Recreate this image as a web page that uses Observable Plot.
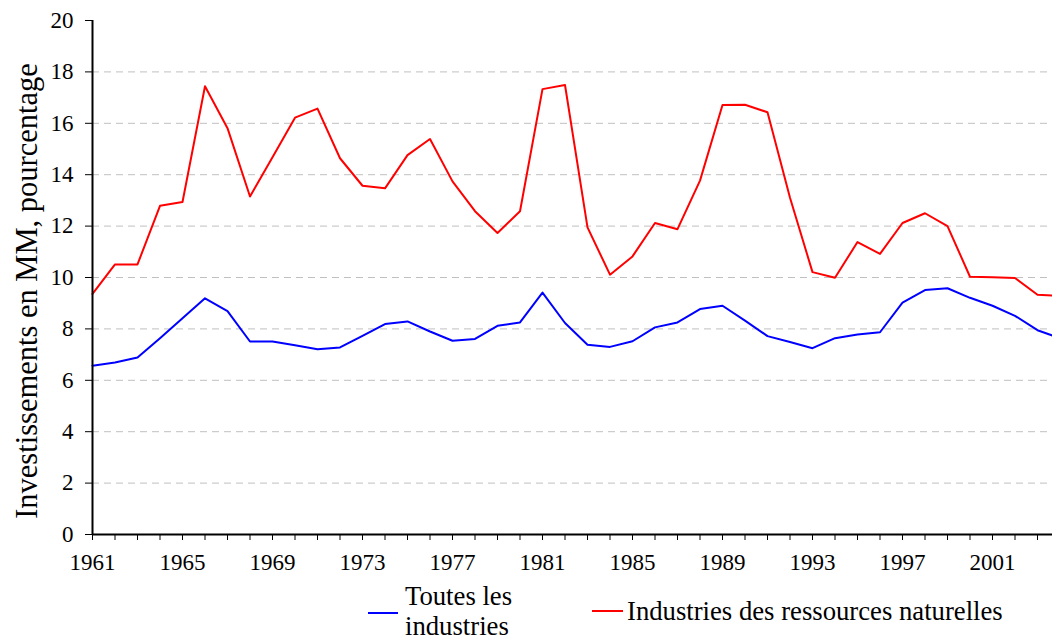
<!DOCTYPE html>
<html><head><meta charset="utf-8">
<script src="https://cdn.jsdelivr.net/npm/d3@7"></script>
<script src="https://cdn.jsdelivr.net/npm/@observablehq/plot@0.6"></script>
<style>
body{margin:0;background:#fff;}
#wrap{position:relative;width:1052px;height:640px;overflow:hidden;font-family:"Liberation Serif","Times New Roman",serif;color:#000;background:#fff;}
#wrap svg{position:absolute;left:0;top:0;}
.swatch{position:absolute;height:2px;}
.ltext{position:absolute;font-size:26.7px;line-height:30px;white-space:nowrap;}
</style></head><body><div id="wrap"></div><script>
const years = [1961,1962,1963,1964,1965,1966,1967,1968,1969,1970,
  1971,1972,1973,1974,1975,1976,1977,1978,1979,1980,
  1981,1982,1983,1984,1985,1986,1987,1988,1989,1990,
  1991,1992,1993,1994,1995,1996,1997,1998,1999,2000,
  2001,2002,2003,2004];
const allIndustries = [6.57,6.69,6.89,7.64,8.41,9.19,8.69,7.51,7.51,7.36,
  7.21,7.28,7.73,8.19,8.29,7.90,7.54,7.61,8.12,8.25,
  9.41,8.23,7.38,7.30,7.52,8.06,8.25,8.77,8.90,8.32,
  7.72,7.49,7.25,7.64,7.78,7.87,9.02,9.51,9.58,9.21,
  8.90,8.51,7.95,7.64];
const naturalResources = [9.36,10.51,10.51,12.79,12.94,17.44,15.81,13.15,14.68,16.22,
  16.57,14.64,13.57,13.47,14.76,15.39,13.74,12.58,11.73,12.58,
  17.33,17.49,11.95,10.11,10.82,12.12,11.88,13.77,16.71,16.72,
  16.43,13.10,10.21,9.99,11.38,10.92,12.12,12.50,12.00,10.03,
  10.01,9.98,9.33,9.29];
const seriesNames = ["Toutes les industries","Industries des ressources naturelles"];
const seriesColors = ["#0000ff","#ff0000"];
const yTicks = [0,2,4,6,8,10,12,14,16,18,20];
const gridValues = [2,4,6,8,10,12,14,16,18];
const xLabels = [1961,1965,1969,1973,1977,1981,1985,1989,1993,1997,2001];
const yTitle = "Investissements en MM, pourcentage";

const data = years.flatMap((yr,i)=>[
  {year:yr, value:allIndustries[i], series:seriesNames[0]},
  {year:yr, value:naturalResources[i], series:seriesNames[1]}
]);

const font = '"Liberation Serif","Times New Roman",serif';
const tickFont = 23;
const chart = Plot.plot({
  width:1052, height:580, marginLeft:92, marginRight:0, marginTop:20, marginBottom:46,
  style:{fontFamily:font, overflow:"hidden", background:"white", color:"black"},
  x:{domain:[1961,2004], range:[92,1059.5], axis:null},
  y:{domain:[0,20], axis:null},
  color:{domain:seriesNames, range:seriesColors},
  marks:[
    Plot.ruleY(gridValues,{stroke:"#c0c0c0",strokeDasharray:"7,5",strokeWidth:1}),
    Plot.ruleY(yTicks,{y:d=>d, x1:1961, x2:1961, insetLeft:-7, stroke:"black", strokeWidth:1}),
    Plot.text(yTicks,{y:d=>d, text:d=>String(d), frameAnchor:"left", dx:-19, textAnchor:"end", fontSize:tickFont, fontFamily:font, fill:"black"}),
    Plot.ruleX(years,{x:d=>d, y1:0, y2:0, insetBottom:-6, stroke:"black", strokeWidth:1}),
    Plot.text(xLabels,{x:d=>d, text:d=>String(d), frameAnchor:"bottom", dy:35, fontSize:tickFont, fontFamily:font, fill:"black"}),
    Plot.line(data,{x:"year", y:"value", stroke:"series", strokeWidth:2}),
    Plot.ruleX([1961],{stroke:"black",strokeWidth:2}),
    Plot.ruleY([0],{stroke:"black",strokeWidth:2})
  ]
});
d3.select(chart).append("text")
  .attr("transform","translate(30,291) rotate(-90)")
  .attr("text-anchor","middle")
  .attr("dominant-baseline","middle")
  .style("font-size","30.5px")
  .style("font-family",font)
  .attr("fill","black")
  .text(yTitle);

const wrap = document.getElementById("wrap");
wrap.appendChild(chart);

function addEl(cls, styles, html){
  const el = document.createElement("div");
  el.className = cls;
  Object.assign(el.style, styles);
  if (html !== undefined) el.innerHTML = html;
  wrap.appendChild(el);
}
addEl("swatch",{left:"368px",top:"612px",width:"30px",background:seriesColors[0]});
addEl("ltext",{left:"405px",top:"581px"},"Toutes les<br>industries");
addEl("swatch",{left:"592px",top:"610px",width:"31px",background:seriesColors[1]});
addEl("ltext",{left:"627px",top:"596px"},seriesNames[1]);
</script></body></html>
